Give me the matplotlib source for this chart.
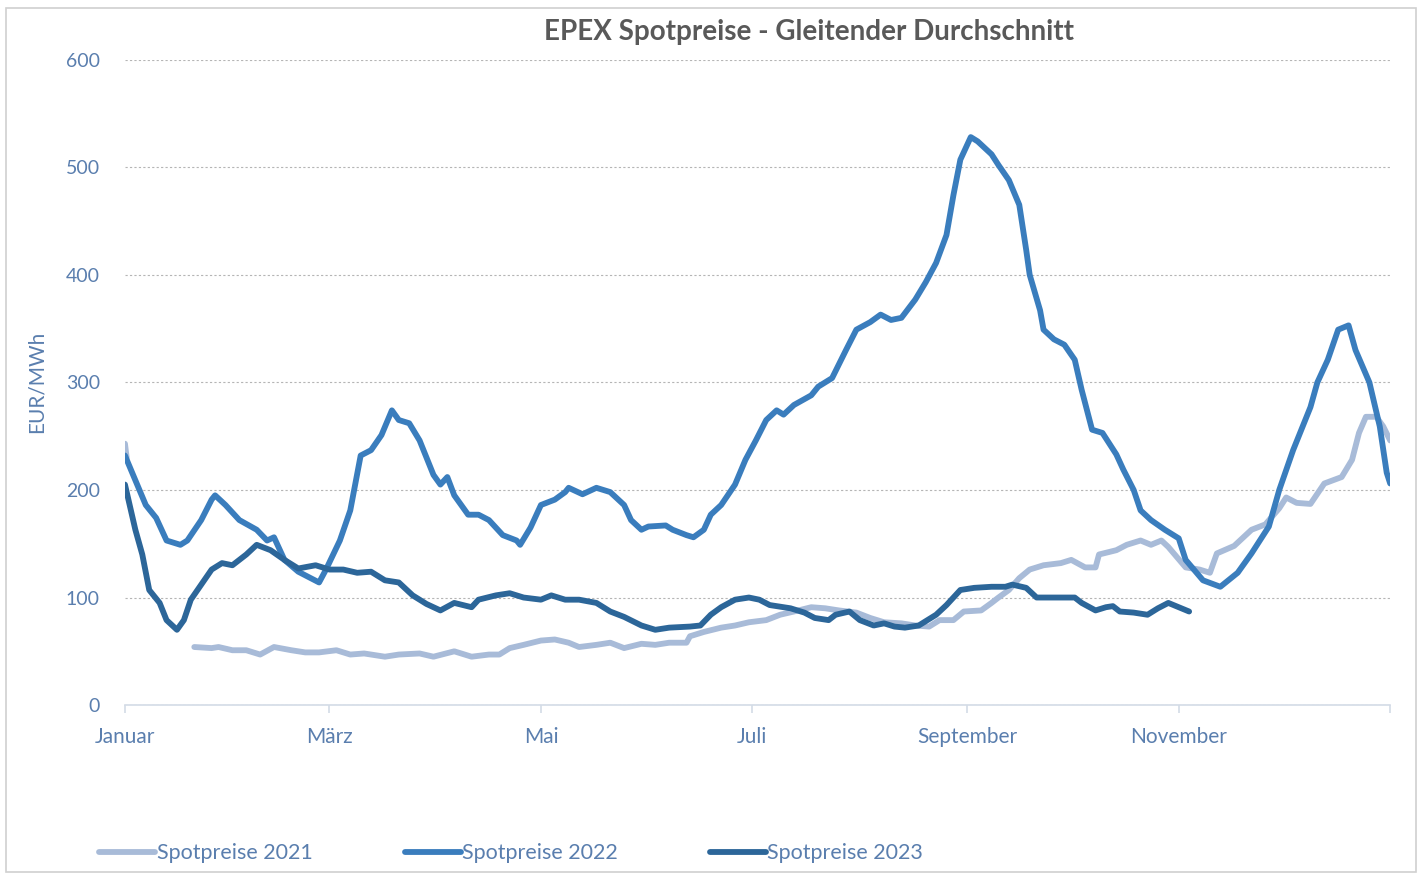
import matplotlib
matplotlib.use("Agg")
import matplotlib.pyplot as plt
from matplotlib.patches import Rectangle
import numpy as np

# moving averages, EUR/MWh, x = day of year
days_2021 = [0, 0.5, np.nan, 20, 25, 27, 31, 35, 39, 43, 48, 52, 56, 61, 65, 69, 75, 79, 85, 89,
             95, 100, 105, 108, 111, 115, 120, 124, 128, 131, 136, 140, 144, 149, 153, 157,
             162, 163, 167, 172, 176, 180, 185, 189, 193, 198, 202, 206, 211, 215, 219, 224,
             228, 232, 235, 239, 242, 247, 250, 252, 255, 258, 261, 265, 270, 273, 277, 280,
             281, 286, 289, 293, 296, 299, 301, 306, 310, 313, 315, 320, 325, 329, 333, 335,
             338, 342, 346, 351, 354, 356, 358, 361, 363, 365]
vals_2021 = [243, 230, np.nan, 54, 53, 54, 51, 51, 47, 54, 51, 49, 49, 51, 47, 48, 45, 47, 48, 45,
             50, 45, 47, 47, 53, 56, 60, 61, 58, 54, 56, 58, 53, 57, 56, 58,
             58, 64, 68, 72, 74, 77, 79, 84, 87, 91, 90, 88, 86, 81, 77, 76,
             74, 73, 79, 79, 87, 88, 95, 100, 107, 118, 126, 130, 132, 135, 128, 128,
             140, 144, 149, 153, 149, 153, 147, 128, 126, 123, 141, 148, 163, 168, 183, 193,
             188, 187, 206, 212, 228, 253, 268, 268, 259, 246]

days_2022 = [0, 3, 6, 9, 12, 16, 18, 22, 25, 26, 29, 33, 38, 41, 43, 46, 50, 56, 58, 62, 65,
             68, 71, 74, 77, 79, 82, 85, 89, 91, 93, 95, 99, 102, 105, 109, 113, 114, 117,
             120, 124, 127, 128, 132, 136, 140, 144, 146, 149, 151, 156, 158, 162, 164, 167,
             169, 172, 176, 179, 182, 185, 188, 190, 193, 198, 200, 204, 208, 211, 215, 218,
             221, 224, 228, 231, 234, 237, 239, 241, 244, 246, 250, 252, 255, 258, 260, 261,
             264, 265, 268, 271, 274, 276, 279, 282, 286, 288, 291, 293, 296, 300, 304, 306,
             311, 316, 321, 325, 330, 333, 337, 342, 344, 347, 350, 353, 355, 359, 362, 364, 365]
vals_2022 = [232, 209, 186, 174, 153, 149, 153, 172, 191, 195, 186, 172, 163, 153, 156, 135,
             124, 114, 126, 153, 181, 232, 237, 251, 274, 265, 262, 246, 214, 205, 212, 195,
             177, 177, 172, 158, 153, 149, 165, 186, 191, 198, 202, 196, 202, 198, 186, 172,
             163, 166, 167, 163, 158, 156, 163, 177, 186, 205, 228, 246, 265, 274, 270, 279,
             288, 296, 304, 330, 349, 356, 363, 358, 360, 377, 393, 411, 437, 474, 507, 528,
             524, 512, 502, 488, 465, 423, 400, 367, 349, 340, 335, 321, 293, 256, 253, 233,
             219, 200, 181, 172, 163, 155, 135, 116, 110, 123, 141, 166, 200, 237, 277, 300,
             321, 349, 353, 330, 300, 259, 216, 206]

days_2023 = [0, 1, 3, 5, 7, 10, 12, 15, 17, 19, 22, 25, 28, 31, 35, 38, 42, 46, 50, 55, 59,
             63, 67, 71, 75, 79, 83, 87, 91, 95, 100, 102, 107, 111, 115, 120, 123, 127, 131,
             136, 140, 144, 149, 153, 157, 163, 166, 169, 172, 176, 180, 183, 186, 192, 196,
             199, 203, 205, 209, 212, 216, 219, 222, 225, 229, 234, 237, 241, 245, 250, 254,
             256, 260, 263, 268, 271, 274, 276, 280, 283, 285, 287, 291, 295, 298, 301, 304, 307]
vals_2023 = [205, 191, 163, 140, 107, 95, 79, 70, 79, 98, 112, 126, 132, 130, 140, 149, 144,
             135, 127, 130, 126, 126, 123, 124, 116, 114, 102, 94, 88, 95, 91, 98, 102, 104,
             100, 98, 102, 98, 98, 95, 87, 82, 74, 70, 72, 73, 74, 84, 91, 98, 100, 98, 93, 90,
             86, 81, 79, 84, 87, 79, 74, 76, 73, 72, 74, 84, 93, 107, 109, 110, 110, 112, 109,
             100, 100, 100, 100, 95, 88, 91, 92, 87, 86, 84, 90, 95, 91, 87]

month_ticks = [0, 59, 120, 181, 243, 304, 365]
month_labels = ["Januar", "März", "Mai", "Juli", "September", "November", ""]

series = [("Spotpreise 2021", days_2021, vals_2021, "#a8bbd8"),
          ("Spotpreise 2022", days_2022, vals_2022, "#3a7dbd"),
          ("Spotpreise 2023", days_2023, vals_2023, "#2c6699")]

plt.rcParams['font.family'] = ['Lato', 'DejaVu Sans']
label_color = "#5a7eae"

fig = plt.figure(figsize=(14.2, 8.77), dpi=100)
ax = fig.add_axes([0.088, 0.196, 0.891, 0.736])

for name, d, v, c in series:
    ax.plot(d, v, color=c, linewidth=4.2, label=name, solid_capstyle='round',
            solid_joinstyle='round')

ax.set_xlim(0, 365)
ax.set_ylim(0, 600)
ax.set_yticks(range(0, 601, 100))
ax.set_xticks(month_ticks)
ax.set_xticklabels(month_labels)
ax.yaxis.grid(True, linestyle=(0, (2, 2)), color="#b5b5b5", linewidth=0.8)
ax.set_axisbelow(True)
for s in ['top', 'right', 'left']:
    ax.spines[s].set_visible(False)
ax.spines['bottom'].set_color("#d3dbe6")
ax.spines['bottom'].set_linewidth(1.2)
ax.tick_params(axis='y', length=0, pad=18, labelsize=14, labelcolor=label_color)
ax.tick_params(axis='x', length=6, width=1.2, color="#d3dbe6", pad=10,
               labelsize=15, labelcolor=label_color)
ax.set_ylabel("EUR/MWh", fontsize=15, color=label_color, labelpad=14)

fig.text(0.570, 0.963, "EPEX Spotpreise - Gleitender Durchschnitt", ha='center', va='center',
         fontsize=20, fontweight='bold', color="#595959")

lines, labels = ax.get_legend_handles_labels()
fig.legend(lines, labels, loc='center left', bbox_to_anchor=(0.064, 0.027), ncol=3,
           frameon=False, fontsize=15.5, handlelength=2.6, handletextpad=0.05,
           columnspacing=4.3, labelcolor=label_color, borderaxespad=0)

fig.patches.append(Rectangle((0.004, 0.006), 0.993, 0.985, transform=fig.transFigure,
                             fill=False, edgecolor="#d0d0d0", linewidth=1.2))

fig.savefig("out.png", dpi=100)
